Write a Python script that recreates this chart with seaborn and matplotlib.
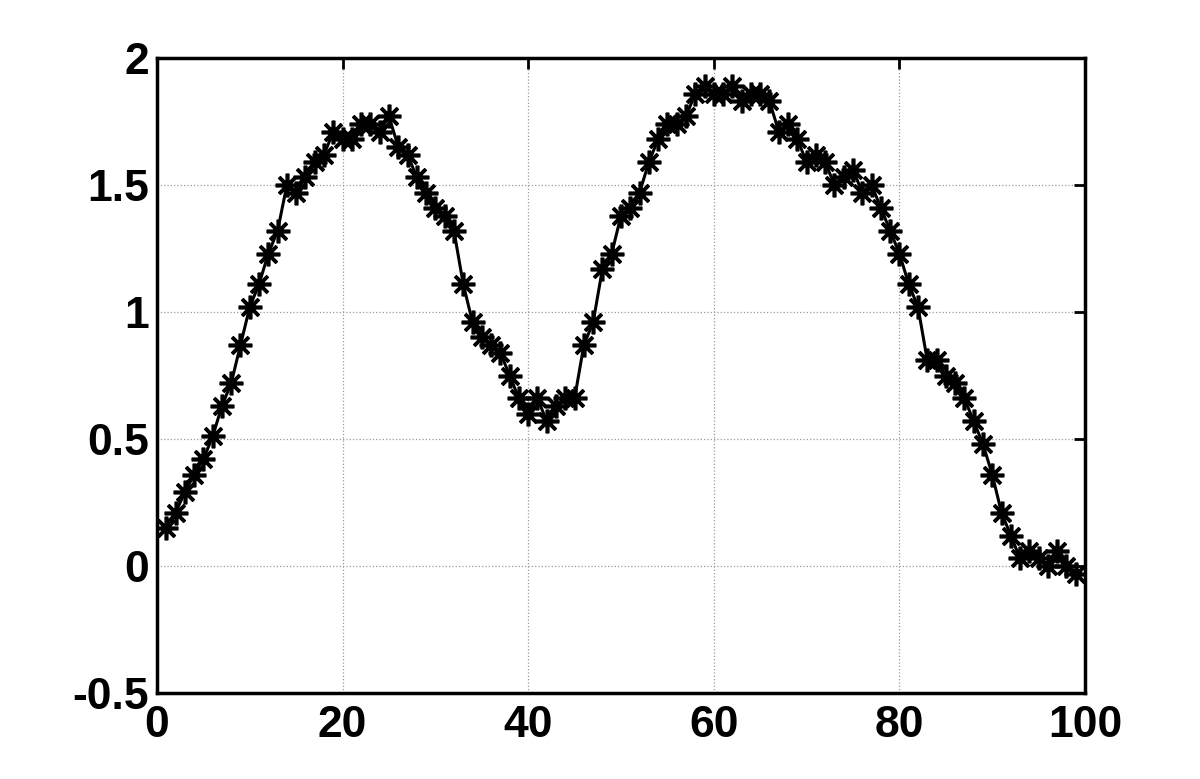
import matplotlib
matplotlib.use("Agg")
import matplotlib.pyplot as plt
import numpy as np
import seaborn as sns

x_vals = list(range(1, 100))
y_vals = [
    0.15, 0.21, 0.29, 0.36, 0.42, 0.51, 0.63, 0.72, 0.87, 1.02,
    1.11, 1.23, 1.32, 1.50, 1.47, 1.53, 1.59, 1.62, 1.71, 1.68,
    1.68, 1.74, 1.74, 1.71, 1.77, 1.65, 1.62, 1.53, 1.47, 1.41,
    1.38, 1.32, 1.11, 0.96, 0.90, 0.87, 0.84, 0.75, 0.66, 0.60,
    0.66, 0.57, 0.63, 0.66, 0.66, 0.87, 0.96, 1.17, 1.23, 1.38,
    1.41, 1.47, 1.59, 1.68, 1.74, 1.74, 1.77, 1.86, 1.89, 1.86,
    1.86, 1.89, 1.83, 1.86, 1.86, 1.83, 1.71, 1.74, 1.68, 1.59,
    1.62, 1.59, 1.50, 1.53, 1.56, 1.47, 1.50, 1.41, 1.32, 1.23,
    1.11, 1.02, 0.81, 0.81, 0.75, 0.72, 0.66, 0.57, 0.48, 0.36,
    0.21, 0.12, 0.03, 0.06, 0.03, 0.00, 0.06, 0.00, -0.03,
]
x_ticks = [0, 20, 40, 60, 80, 100]
y_ticks = [-0.5, 0, 0.5, 1, 1.5, 2]
y_tick_labels = ["-0.5", "0", "0.5", "1", "1.5", "2"]

sns.set_style("white")
plt.rcParams["font.family"] = ["Liberation Sans", "DejaVu Sans"]

fig = plt.figure(figsize=(12, 7.79), dpi=100)
ax = fig.add_axes([0.1308, 0.1104, 0.7734, 0.8151])

# MATLAB-style asterisk marker: 8 spokes
sns.lineplot(x=x_vals, y=y_vals, ax=ax, color="black", linewidth=2.2,
             marker=(8, 2, 0), markersize=17, markeredgewidth=2.6,
             markeredgecolor="black")

ax.set_xlim(0, 100)
ax.set_ylim(-0.5, 2)
ax.set_xticks(x_ticks)
ax.set_yticks(y_ticks)
ax.set_xticklabels([str(t) for t in x_ticks])
ax.set_yticklabels(y_tick_labels)

ax.grid(True, linestyle=":", color="#9a9a9a", linewidth=0.9)
ax.tick_params(direction="in", length=8, width=2, top=True, right=True,
               labelsize=32, pad=6, color="black", labelcolor="black")
ax.tick_params(axis="x", pad=9)
for lab in ax.get_xticklabels() + ax.get_yticklabels():
    lab.set_fontweight("bold")
for sp in ax.spines.values():
    sp.set_linewidth(2.5)
    sp.set_color("black")

fig.savefig("out.png", dpi=100)
